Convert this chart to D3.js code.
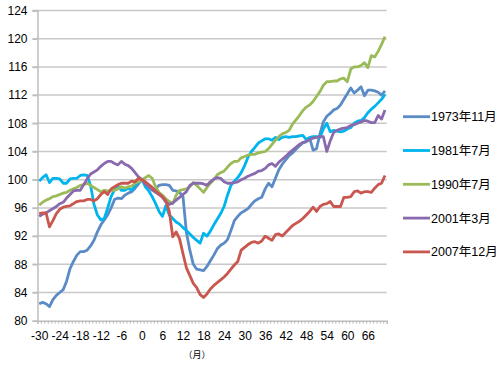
<!DOCTYPE html>
<html>
<head>
<meta charset="utf-8">
<script src="https://cdn.jsdelivr.net/npm/d3@7"></script>
<style>
  body { margin: 0; background: #fff; }
  text { font-family: "Liberation Sans", Arial, "Noto Sans CJK JP", sans-serif; fill: #000; }
</style>
</head>
<body>
<svg id="chart" width="500" height="370"></svg>
<script>
var w = 500;
var h = 370;
var margin = { top: 10.5, right: 113.3, bottom: 49.3, left: 37.5 };

// months relative to the peak (category axis)
var months = d3.range(-30, 72);
var xTickLabels = [-30, -24, -18, -12, -6, 0, 6, 12, 18, 24, 30, 36, 42, 48, 54, 60, 66];
var yTicks = [80, 84, 88, 92, 96, 100, 104, 108, 112, 116, 120, 124];

var seriesNames = ["1973年11月", "1981年7月", "1990年7月", "2001年3月", "2007年12月"];
var seriesColors = ["#5B8BC6", "#00B4EE", "#9BBB59", "#8A6AAE", "#C9574F"];

var s1973 = [
  82.4, 82.6, 82.4, 82.0, 83.0, 83.6, 84.0, 84.4, 85.6, 87.4,
  88.4, 89.3, 89.8, 89.8, 90.0, 90.6, 91.4, 92.6, 93.6, 94.3,
  95.0, 96.0, 97.2, 97.4, 97.3, 97.8, 98.1, 98.3, 98.8, 99.4,
  100, 99.5, 99.0, 98.5, 98.7, 99.2, 99.3, 99.3, 99.2, 98.5,
  98.4, 98.2, 97.6, 92.5, 90.0, 88.0, 87.3, 87.2, 87.1, 87.7,
  88.5, 89.3, 90.2, 90.7, 91.0, 91.5, 92.8, 94.2, 94.8, 95.3,
  95.6, 95.9, 96.5, 97.0, 97.3, 97.5, 98.7, 99.5, 99.0, 100.2,
  101.4, 102.2, 102.8, 103.4, 103.8, 104.3, 104.8, 105.2, 105.4, 105.9,
  104.2, 104.4, 106.5, 108.2, 109.0, 109.4, 109.9, 110.1, 110.6, 111.4,
  112.2, 113.0, 112.3, 112.7, 113.2, 111.9, 112.7, 112.7, 112.6, 112.4,
  112.0, 112.6
];
var s1981 = [
  99.8, 100.3, 100.7, 99.6, 100.2, 100.2, 100.1, 99.5, 99.5, 100.1,
  100.2, 100.2, 100.6, 100.7, 100.6, 99.2, 96.5, 95.0, 94.3, 94.5,
  96.0, 97.6, 98.6, 99.1, 98.5, 98.5, 98.8, 98.5, 99.2, 99.6,
  100, 99.0, 98.4, 97.6, 96.6, 95.5, 94.8, 96.3, 95.0, 94.5,
  94.0, 93.7, 93.2, 92.8, 92.3, 91.8, 91.4, 91.0, 92.4, 92.0,
  92.7, 93.6, 94.4, 95.2, 96.2, 97.8, 99.2, 99.8, 100.3, 101.0,
  102.0, 103.2, 104.0, 104.6, 105.2, 105.5, 105.8, 105.8, 105.6, 106.0,
  105.7, 106.0, 106.1, 106.0, 106.1, 106.1, 106.2, 106.3, 105.7, 106.0,
  106.1, 106.1, 106.0, 107.2, 108.0, 106.8, 107.0, 106.9, 106.8, 106.9,
  107.2, 107.4, 108.0, 108.3, 108.4, 108.8, 109.5, 110.0, 110.4, 110.9,
  111.4, 112.1
];
var s1990 = [
  96.4, 96.8, 97.1, 97.3, 97.6, 97.7, 97.9, 98.1, 98.2, 98.5,
  98.7, 98.9, 99.2, 99.3, 99.5, 99.2, 98.9, 98.6, 98.3, 98.5,
  98.4, 98.5, 98.5, 98.7, 99.0, 98.8, 99.0, 99.1, 99.5, 99.7,
  100, 100.3, 100.6, 100.2, 99.0, 98.2, 97.8, 97.3, 96.9, 96.6,
  97.8, 98.5, 98.6, 98.7, 99.0, 99.6, 99.2, 98.7, 98.2, 98.9,
  99.5, 100.0, 100.7, 101.0, 101.2, 101.8, 102.3, 102.6, 102.6, 103.1,
  103.3, 103.5, 103.6, 103.6, 103.8, 103.9, 104.0, 104.4, 105.0, 105.6,
  106.1, 106.5, 106.7, 107.0, 107.9, 108.5, 109.1, 109.8, 110.3, 110.6,
  111.1, 111.8, 112.5, 113.4, 113.9, 113.9, 114.0, 114.0, 114.3, 114.4,
  113.9, 115.7, 116.0, 116.0, 116.2, 116.6, 115.9, 117.6, 117.4, 118.2,
  119.2, 120.3
];
var s2001 = [
  94.8, 95.1, 95.3, 95.6, 95.9, 96.2, 96.6, 96.8, 97.4, 97.9,
  98.4, 98.5, 98.5, 99.3, 100.1, 100.8, 101.1, 101.4, 101.9, 102.3,
  102.6, 102.6, 102.3, 102.1, 102.6, 102.2, 102.0, 101.6, 101.0, 100.4,
  100.0, 99.4, 99.0, 98.6, 98.2, 97.9, 97.5, 96.8, 96.5, 96.7,
  97.1, 97.5, 97.9, 98.3, 99.2, 99.5, 99.5, 99.5, 99.4, 99.2,
  99.7, 100.1, 100.3, 100.2, 99.7, 99.5, 99.5, 99.6, 99.7, 100.0,
  100.2, 100.5, 100.7, 100.9, 101.2, 101.3, 101.6, 102.1, 102.3, 101.9,
  102.5, 102.9, 103.3, 103.8, 104.2, 104.6, 105.0, 105.3, 105.4, 105.7,
  105.9, 106.0, 106.1, 106.1, 104.0, 105.5, 106.7, 107.0, 107.2, 107.3,
  107.4, 107.7, 107.8, 108.0, 108.2, 108.4, 108.3, 108.1, 108.1, 109.1,
  108.6, 109.9
];
var s2007 = [
  95.2, 95.3, 95.3, 93.3, 94.2, 95.2, 95.8, 96.1, 96.2, 96.3,
  96.6, 96.9, 97.0, 97.0, 97.2, 97.2, 97.0, 97.3, 97.9, 98.3,
  97.9, 98.7, 99.0, 99.3, 99.5, 99.5, 99.5, 99.8, 99.7, 100.2,
  100.0, 99.7, 99.3, 98.9, 98.4, 98.0, 97.6, 97.0, 95.5, 91.9,
  92.6, 91.6, 89.5, 87.5, 86.4, 85.3, 84.7, 83.7, 83.3, 83.8,
  84.5, 85.0, 85.4, 85.8, 86.2, 86.7, 87.3, 87.9, 88.4, 90.0,
  90.4, 90.8, 91.1, 91.2, 91.0, 91.3, 92.0, 91.7, 91.4, 92.2,
  92.3, 92.0, 92.5, 93.0, 93.5, 93.8, 94.1, 94.5, 95.0, 95.5,
  96.1, 95.5, 96.2, 96.5, 96.6, 96.9, 96.2, 96.2, 96.2, 97.5,
  97.5, 97.6, 98.3, 98.4, 98.1, 98.3, 98.3, 98.2, 98.8, 99.3,
  99.5, 100.6
];

var seriesValues = [s1973, s1981, s1990, s2001, s2007];

var series = seriesNames.map(function(name, i) {
  return {
    name: name,
    color: seriesColors[i],
    values: months.map(function(m, j) { return { m: m, v: seriesValues[i][j] }; })
  };
});

var svg = d3.select("#chart");

var xScale = d3
  .scaleLinear()
  .domain([-30.5, 71.5])
  .range([margin.left, w - margin.right]);

var yScale = d3
  .scaleLinear()
  .domain([80, 124])
  .range([h - margin.bottom, margin.top]);

// gridlines
svg
  .append("g")
  .selectAll("line")
  .data(yTicks.slice(1))
  .enter()
  .append("line")
  .attr("x1", margin.left - 5)
  .attr("x2", w - margin.right)
  .attr("y1", function(d) { return yScale(d); })
  .attr("y2", function(d) { return yScale(d); })
  .attr("stroke", "#C8C8C8")
  .attr("stroke-width", 1.5);

// y axis
var yAxis = svg
  .append("g")
  .attr("transform", "translate(" + margin.left + ",0)")
  .call(d3.axisLeft(yScale).tickValues(yTicks).tickSize(5).tickPadding(5));
yAxis.select(".domain").attr("stroke", "#BDBDBD").attr("stroke-width", 1.5);
yAxis.selectAll(".tick line").attr("stroke", "#BDBDBD").attr("stroke-width", 1.5);
yAxis.selectAll("text").style("font-size", "12px");

// x axis: small ticks between months
var xMinor = svg
  .append("g")
  .attr("transform", "translate(0," + (h - margin.bottom) + ")")
  .call(d3.axisBottom(xScale).tickValues(d3.range(-30.5, 72, 1)).tickSize(3).tickFormat(""));
xMinor.select(".domain").attr("stroke", "#BDBDBD").attr("stroke-width", 1.5);
xMinor.selectAll(".tick line").attr("stroke", "#BDBDBD");

var xLabels = svg
  .append("g")
  .attr("transform", "translate(0," + (h - margin.bottom) + ")")
  .call(d3.axisBottom(xScale)
    .tickValues(xTickLabels)
    .tickSize(0)
    .tickPadding(11)
    .tickFormat(function(d) { return String(d); }));
xLabels.select(".domain").remove();
xLabels.selectAll("text").style("font-size", "12px");

svg
  .append("text")
  .attr("x", 197)
  .attr("y", 358)
  .attr("text-anchor", "middle")
  .style("font-size", "9px")
  .text("（月）");

// lines
var line = d3
  .line()
  .x(function(d) { return xScale(d.m); })
  .y(function(d) { return yScale(d.v); });

svg
  .append("g")
  .selectAll("path")
  .data(series)
  .enter()
  .append("path")
  .attr("d", function(d) { return line(d.values); })
  .attr("fill", "none")
  .attr("stroke", function(d) { return d.color; })
  .attr("stroke-width", 2.8)
  .attr("stroke-linejoin", "round");

// legend
var legend = svg
  .append("g")
  .selectAll("g")
  .data(series)
  .enter()
  .append("g")
  .attr("transform", function(d, i) { return "translate(403," + (116.7 + i * 33.8) + ")"; });

legend
  .append("line")
  .attr("x1", 0)
  .attr("x2", 27)
  .attr("stroke", function(d) { return d.color; })
  .attr("stroke-width", 2.8);

legend
  .append("text")
  .attr("x", 28)
  .attr("dy", "0.36em")
  .style("font-size", "12.5px")
  .text(function(d) { return d.name; });
</script>
</body>
</html>
